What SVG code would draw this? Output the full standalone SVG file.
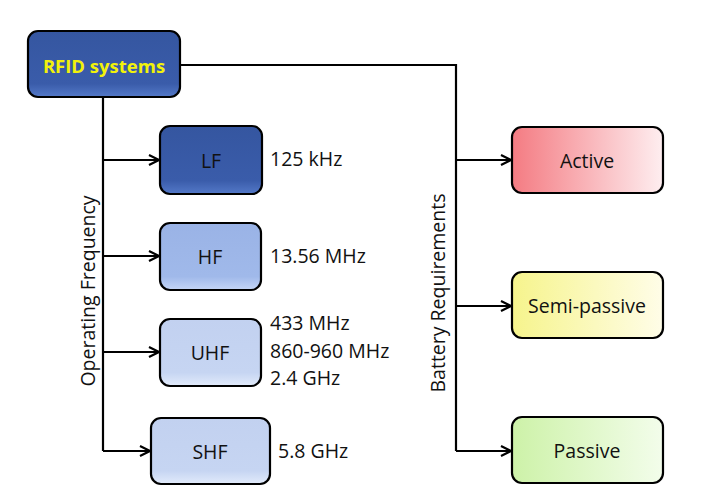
<svg xmlns="http://www.w3.org/2000/svg" width="711" height="500" viewBox="0 0 711 500">
<style>
.box{stroke:#000;stroke-width:2.2}
.t{font-family:"Open Sans","Liberation Sans",sans-serif;font-size:19.5px;fill:#111}
.c{text-anchor:middle;dominant-baseline:central}
.conn{fill:none;stroke:#000;stroke-width:2.2}
</style>
<defs>
<linearGradient id="gDark" x1="0" y1="0" x2="0" y2="1"><stop offset="0" stop-color="#3556a0"/><stop offset="0.8" stop-color="#3a5caa"/><stop offset="1" stop-color="#5479c8"/></linearGradient>
<linearGradient id="gHF" x1="0" y1="0" x2="0" y2="1"><stop offset="0" stop-color="#9ab3e6"/><stop offset="0.8" stop-color="#a0b9ea"/><stop offset="1" stop-color="#c5d6f7"/></linearGradient>
<linearGradient id="gUHF" x1="0" y1="0" x2="0" y2="1"><stop offset="0" stop-color="#c2d1f0"/><stop offset="0.8" stop-color="#c6d5f2"/><stop offset="1" stop-color="#e2ebfb"/></linearGradient>
<linearGradient id="gAct" x1="0" y1="0" x2="1" y2="0"><stop offset="0" stop-color="#f47b82"/><stop offset="1" stop-color="#feeef0"/></linearGradient>
<linearGradient id="gSemi" x1="0" y1="0" x2="1" y2="0"><stop offset="0" stop-color="#f6f48c"/><stop offset="1" stop-color="#fffde8"/></linearGradient>
<linearGradient id="gPas" x1="0" y1="0" x2="1" y2="0"><stop offset="0" stop-color="#cdf2a8"/><stop offset="1" stop-color="#f3fdeb"/></linearGradient>
<marker id="arr" viewBox="0 0 12 12" refX="11" refY="6" markerWidth="12" markerHeight="12" markerUnits="userSpaceOnUse" orient="auto">
<path d="M1,1 L11,6 L1,11" fill="none" stroke="#000" stroke-width="2.2"/>
</marker>
</defs>
<g id="connectors">
<path class="conn" d="M180,65 H456 V451"/>
<path class="conn" d="M456,160 H511" marker-end="url(#arr)"/>
<path class="conn" d="M456,306 H511" marker-end="url(#arr)"/>
<path class="conn" d="M456,451 H511" marker-end="url(#arr)"/>
<path class="conn" d="M103,97 V451"/>
<path class="conn" d="M103,160 H159" marker-end="url(#arr)"/>
<path class="conn" d="M103,256 H159" marker-end="url(#arr)"/>
<path class="conn" d="M103,352 H159" marker-end="url(#arr)"/>
<path class="conn" d="M103,451 H150" marker-end="url(#arr)"/>
</g>
<text class="t" transform="translate(95,291) rotate(-90)" text-anchor="middle">Operating Frequency</text>
<text class="t" transform="translate(445,293) rotate(-90)" text-anchor="middle">Battery Requirements</text>
<g id="rfid">
<rect class="box" x="28" y="31" width="152" height="66" rx="10" fill="url(#gDark)"/>
<text class="t c" x="104" y="65" style="fill:#f2f20a;font-weight:bold;font-size:18.5px">RFID systems</text>
</g>
<g id="lf">
<rect class="box" x="160" y="126" width="102" height="68" rx="10" fill="url(#gDark)"/>
<text class="t c" x="211" y="160">LF</text>
<text class="t" x="270" y="166">125 kHz</text>
</g>
<g id="hf">
<rect class="box" x="160" y="223" width="101" height="67" rx="10" fill="url(#gHF)"/>
<text class="t c" x="210" y="256">HF</text>
<text class="t" x="270" y="263">13.56 MHz</text>
</g>
<g id="uhf">
<rect class="box" x="160" y="319" width="101" height="67" rx="10" fill="url(#gUHF)"/>
<text class="t c" x="210" y="352">UHF</text>
<text class="t" x="270" y="330">433 MHz</text>
<text class="t" x="270" y="358">860-960 MHz</text>
<text class="t" x="270" y="385">2.4 GHz</text>
</g>
<g id="shf">
<rect class="box" x="151" y="418" width="119" height="66" rx="10" fill="url(#gUHF)"/>
<text class="t c" x="210" y="451">SHF</text>
<text class="t" x="278" y="458">5.8 GHz</text>
</g>
<g id="active">
<rect class="box" x="512" y="127" width="151" height="66" rx="10" fill="url(#gAct)"/>
<text class="t c" x="587" y="160">Active</text>
</g>
<g id="semi">
<rect class="box" x="512" y="272" width="151" height="66" rx="10" fill="url(#gSemi)"/>
<text class="t c" x="587" y="305">Semi-passive</text>
</g>
<g id="passive">
<rect class="box" x="512" y="417" width="151" height="66" rx="10" fill="url(#gPas)"/>
<text class="t c" x="587" y="450">Passive</text>
</g>
</svg>
